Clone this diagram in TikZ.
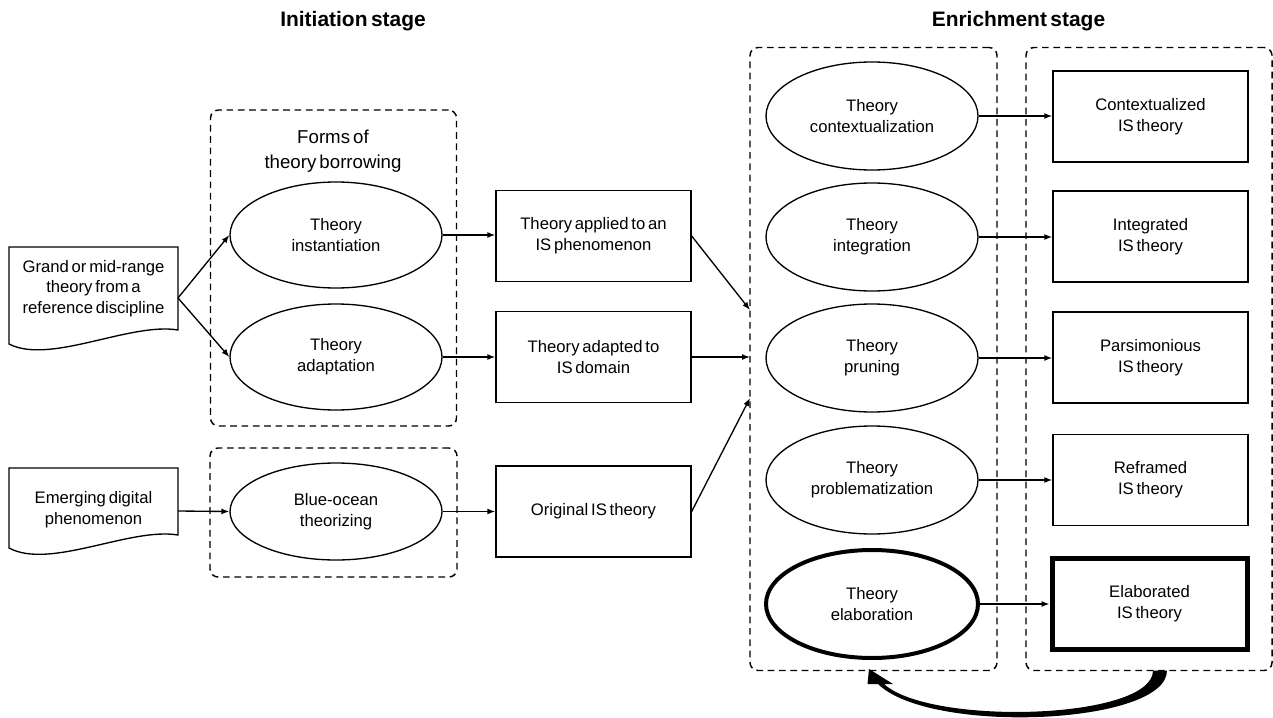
\documentclass[tikz,border=0pt]{standalone}
\usepackage{fontspec}
\setmainfont{Liberation Sans}[WordSpace=0.6]
\usetikzlibrary{arrows.meta,shapes.geometric}
\tikzset{
 lbl/.style={font=\fontsize{12.5}{15.5}\selectfont, align=center},
 ell/.style={lbl, draw, ellipse, inner sep=0pt, line width=1pt, minimum width=159pt, minimum height=79.5pt},
 eell/.style={ell, minimum height=81pt},
 rbox/.style={lbl, draw, rectangle, inner sep=0pt, line width=1pt, minimum width=146.25pt, minimum height=68.25pt},
 dbox/.style={draw, rectangle, rounded corners=6pt, line width=1.1pt, dash pattern=on 5pt off 3.5pt, inner sep=0pt},
 conn/.style={line width=1pt, -{Latex[length=6pt,width=4.5pt]}},
 ttl/.style={font=\fontsize{15.7}{19}\selectfont\bfseries},
 docshape/.style={draw, line width=1pt},
}
\begin{document}
\begin{tikzpicture}[x=0.75pt,y=-0.75pt]
\useasboundingbox (0,0) rectangle (1273,717);

% titles
\node[ttl] (t1) at (353,21) {Initiation stage};
\node[ttl] (t2) at (1018.5,21) {Enrichment stage};

% dashed group boxes
\node[dbox, minimum width=184.5pt, minimum height=237pt] (fb) at (333.5,268) {};
\node[dbox, minimum width=185.25pt, minimum height=96.75pt] (bo) at (333.5,512.5) {};
\node[dbox, minimum width=185.25pt, minimum height=467.25pt] (e1) at (873.5,359) {};
\node[dbox, minimum width=184.5pt, minimum height=467.25pt] (e2) at (1149,359) {};

\node[font=\fontsize{14}{18.75}\selectfont, align=center] (fbl) at (333,151) {Forms of\\theory borrowing};

% document shapes
\draw[docshape] (9,247) -- (178,247) -- (178,330) .. controls (130,322) and (50,365) .. (9,344) -- cycle;
\node[lbl] (grand) at (93.5,288.5) {Grand or mid-range\\theory from a\\reference discipline};
\coordinate (grandR) at (178,298);
\draw[docshape] (9,468) -- (178,468) -- (178,535) .. controls (130,527) and (50,570) .. (9,548) -- cycle;
\node[lbl] (emerg) at (93.5,510) {Emerging digital\\phenomenon};
\coordinate (emergR) at (178,511);

% initiation ellipses
\node[ell] (inst) at (336,235) {Theory\\instantiation};
\node[ell] (adapt) at (336,357) {Theory\\adaptation};
\node[ell, minimum height=72.75pt] (blue) at (336,511.5) {Blue-ocean\\theorizing};

% middle boxes
\node[rbox] (applied) at (593.5,236) {Theory applied to an\\IS phenomenon};
\node[rbox] (adapted) at (593.5,357) {Theory adapted to\\IS domain};
\node[rbox] (orig) at (593.5,511.5) {Original IS theory};

% enrichment ellipses
\node[eell] (ctx) at (872,116) {Theory\\contextualization};
\node[eell] (integ) at (872,237) {Theory\\integration};
\node[eell] (prun) at (872,358) {Theory\\pruning};
\node[eell] (prob) at (872,480) {Theory\\problematization};
\node[eell, line width=3pt] (elab) at (872,604) {Theory\\elaboration};

% result boxes
\node[rbox] (rctx) at (1150.5,116.5) {Contextualized\\IS theory};
\node[rbox] (rinteg) at (1150.5,236.5) {Integrated\\IS theory};
\node[rbox] (rprun) at (1150.5,357.5) {Parsimonious\\IS theory};
\node[rbox] (rprob) at (1150.5,480) {Reframed\\IS theory};
\node[rbox, line width=3.75pt] (relab) at (1149.5,604) {Elaborated\\IS theory};

% connectors
\coordinate (e1a) at (750,310);
\coordinate (e1b) at (750,357);
\coordinate (e1c) at (750,398);
\draw[conn] (grandR) -- (inst.west);
\draw[conn] (grandR) -- (adapt.west);
\draw[conn] (emergR) -- (blue.west);
\draw[conn] (inst.east) -- (inst.east -| applied.west);
\draw[conn] (adapt.east) -- (adapted.west);
\draw[conn] (blue.east) -- (orig.west);
\draw[conn] (applied.east) -- (e1a);
\draw[conn] (adapted.east) -- (e1b);
\draw[conn] (orig.east) -- (e1c);
\draw[conn] (ctx.east) -- (ctx.east -| rctx.west);
\draw[conn] (integ.east) -- (integ.east -| rinteg.west);
\draw[conn] (prun.east) -- (prun.east -| rprun.west);
\draw[conn] (prob.east) -- (prob.east -| rprob.west);
\draw[conn] (elab.east) -- (elab.east -| relab.west);

% feedback arrow (tapered)
\fill (1153,670.5) -- (1167,670.5) .. controls (1167,725) and (930,735) .. (878,684)
  -- (867.5,684) -- (869,669) -- (893,684) -- (884,684)
  .. controls (930,726) and (1153,720) .. (1153,670.5) -- cycle;
\end{tikzpicture}
\end{document}
